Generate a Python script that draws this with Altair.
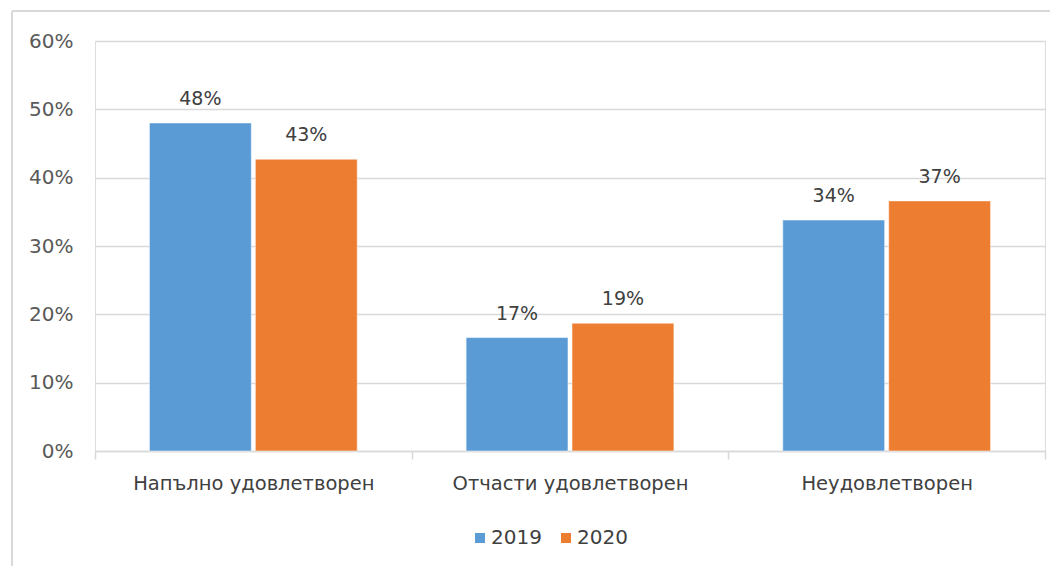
import altair as alt
import pandas as pd

categories = ["Напълно удовлетворен", "Отчасти удовлетворен", "Неудовлетворен"]
years = ["2019", "2020"]
values_2019 = [0.480, 0.166, 0.338]
values_2020 = [0.427, 0.187, 0.366]

rows = []
for c, v in zip(categories, values_2019):
    rows.append({"cat": c, "year": "2019", "value": v})
for c, v in zip(categories, values_2020):
    rows.append({"cat": c, "year": "2020", "value": v})
df = pd.DataFrame(rows)

FONT = "DejaVu Sans"
colors = ["#5B9BD5", "#ED7D31"]

x = alt.X("cat:N", sort=categories, title=None,
          scale=alt.Scale(paddingInner=0, paddingOuter=0),
          axis=alt.Axis(labelAngle=0, labelFontSize=19.5, labelColor="#404040",
                        labelFont=FONT, labelPadding=15, labelLimit=0,
                        domainColor="#d9d9d9",
                        domainWidth=1.5, tickColor="#d9d9d9", tickSize=8,
                        tickBand="extent", tickWidth=1.5))
xo = alt.XOffset("year:N", sort=years,
                 scale=alt.Scale(paddingInner=0.038, paddingOuter=0.514))
y = alt.Y("value:Q", title=None,
          scale=alt.Scale(domain=[0, 0.6]),
          axis=alt.Axis(format=".0%", values=[0, 0.1, 0.2, 0.3, 0.4, 0.5, 0.6],
                        labelFontSize=20, labelColor="#595959", labelFont=FONT,
                        labelPadding=22, domain=False, ticks=False,
                        gridColor="#d9d9d9", gridWidth=1.5))

base = alt.Chart(df)

bars = base.mark_bar(stroke="white", strokeWidth=0.5).encode(
    x=x, xOffset=xo, y=y,
    color=alt.Color("year:N", sort=years,
                    scale=alt.Scale(domain=years, range=colors),
                    legend=alt.Legend(title=None, orient="none", direction="horizontal",
                                      legendX=375, legendY=487,
                                      symbolType="square", symbolSize=100,
                                      labelFontSize=20, labelColor="#404040",
                                      labelFont=FONT, columnPadding=14,
                                      labelOffset=1, symbolStrokeWidth=0)),
)

labels = base.mark_text(baseline="bottom", dy=-14, fontSize=19,
                        color="#404040", font=FONT).encode(
    x=x, xOffset=xo, y=y,
    text=alt.Text("value:Q", format=".0%"),
)

frame_left = alt.Chart(df).mark_rule(color="#d9d9d9", strokeWidth=1.5).encode(
    x=alt.value(-83), y=alt.value(-30), y2=alt.value(540))
frame_top = alt.Chart(df).mark_rule(color="#d9d9d9", strokeWidth=1.5).encode(
    x=alt.value(-83), x2=alt.value(965), y=alt.value(-30))

chart = alt.layer(bars, labels, frame_left, frame_top).properties(
    width=950, height=410,
    autosize=alt.AutoSizeParams(type="none"),
    padding={"left": 87, "top": 33, "right": 5, "bottom": 115},
).configure_view(stroke=None).configure(background="white")

chart.save("out.html", embed_options={"renderer": "svg", "actions": False})
